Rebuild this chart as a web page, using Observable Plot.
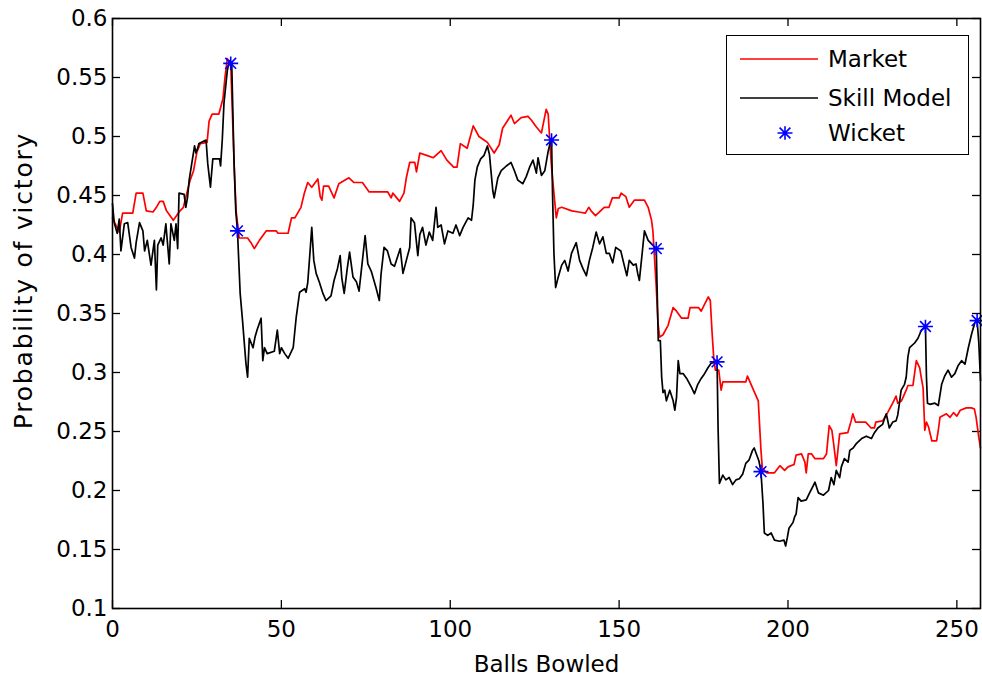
<!DOCTYPE html>
<html>
<head>
<meta charset="utf-8">
<script src="https://cdn.jsdelivr.net/npm/d3@7"></script>
<script src="https://cdn.jsdelivr.net/npm/@observablehq/plot@0.6"></script>
<style>
  html, body { margin: 0; padding: 0; background: #fff; }
  #wrap { position: relative; width: 982px; height: 677px; font-family: "DejaVu Sans", "Liberation Sans", Arial, sans-serif; }
  #legend { position: absolute; left: 726px; top: 35px; width: 243px; height: 120px; border: 1.5px solid #000; background: #fff; box-sizing: border-box; }
  .row { position: absolute; left: 0; height: 30px; display: flex; align-items: center; font-size: 23px; color: #000; }
  .row svg { margin-left: 13px; margin-right: 10px; }
</style>
</head>
<body>
<div id="wrap"></div>
<script>
// ---- data ----
const marketBall = [0,1,2,3,6,7,9,10,12,13,14,15,16,18,19,20,21,22,23,24,25,26,28,28.6,29.5,31.5,32.7,33.3,34,35,36,36.6,37.5,40,41,42,43.5,45.5,48.5,49,52,53,54,55.8,56.8,57.8,59,60.8,61.5,62,62.5,64,65.6,67,70,71.5,74,76,81.5,82.5,83,85,86.3,87,88,89.5,90,91,93,95,97.3,99,101,102,103,105,106.8,108.5,110,111,113,114.5,115.5,118,119,121,123,124,125.5,127,128.4,129,129.6,130,130.7,131.4,132,133,136,138,140,141,141.7,143,145.6,147,148,150,150.6,152,153,154.5,157.5,158.6,159.6,160,161,161.5,162,163,164.5,166,167,168.5,170.4,171,173.5,174.3,176.4,177,177.5,178,178.5,179.5,180.2,180.7,187.5,188,189.8,191.2,192,192.4,193.7,196,197.6,199,200,201.8,202.4,204,205,205.4,206,207,208,210.5,211.4,212.2,213,213.5,214.3,215.3,217.7,218.7,219.2,220,223,224.6,225.6,226,228,229.5,231,232,232.5,233.6,235,235.5,237,238,239,239.5,240,240.5,241,241.6,242.6,244,244.5,245,246.9,248,249,250,251,252.8,254.3,255.2,255.7,256.5,257];
const marketProb = [0.431,0.425,0.419,0.435,0.435,0.452,0.452,0.437,0.436,0.44,0.445,0.445,0.437,0.429,0.433,0.437,0.44,0.452,0.463,0.471,0.487,0.494,0.495,0.513,0.519,0.519,0.532,0.55,0.566,0.562,0.477,0.437,0.414,0.414,0.41,0.405,0.412,0.42,0.42,0.418,0.418,0.431,0.431,0.44,0.452,0.461,0.457,0.464,0.449,0.446,0.458,0.458,0.448,0.46,0.465,0.461,0.461,0.453,0.453,0.448,0.452,0.445,0.452,0.465,0.478,0.478,0.47,0.486,0.484,0.482,0.488,0.48,0.474,0.474,0.494,0.49,0.509,0.5,0.497,0.495,0.486,0.493,0.507,0.518,0.511,0.516,0.517,0.514,0.508,0.503,0.523,0.519,0.49,0.474,0.452,0.431,0.439,0.44,0.437,0.436,0.435,0.44,0.437,0.433,0.44,0.44,0.448,0.448,0.452,0.449,0.44,0.446,0.446,0.44,0.429,0.42,0.372,0.342,0.33,0.332,0.34,0.355,0.352,0.346,0.346,0.355,0.355,0.352,0.364,0.361,0.335,0.313,0.302,0.302,0.285,0.292,0.292,0.297,0.285,0.276,0.234,0.219,0.215,0.215,0.221,0.217,0.22,0.222,0.23,0.231,0.224,0.215,0.231,0.231,0.227,0.227,0.231,0.255,0.251,0.24,0.221,0.248,0.249,0.259,0.265,0.258,0.258,0.253,0.253,0.258,0.259,0.266,0.274,0.28,0.274,0.276,0.285,0.289,0.289,0.31,0.304,0.295,0.287,0.251,0.258,0.254,0.242,0.242,0.251,0.262,0.265,0.262,0.266,0.263,0.268,0.27,0.27,0.269,0.262,0.245,0.236];

const skillBall = [0,0.5,1.4,2,2.5,3.5,4.5,5.5,6.5,7,8,9,9.5,10.3,11.4,12.4,13,13.4,14.4,15,15.8,16.8,17.3,18.3,18.8,19.3,19.7,21.2,21.7,22.2,22.7,23.3,24.3,24.7,25.2,25.6,27.7,28.2,29,29.4,29.7,31.7,32,32.5,33,34,34.6,35.3,35.6,36,36.5,37,37.8,38.5,39.5,40,40.5,41.6,42.2,42.8,44,44.5,45,45.8,47.9,48.8,49.5,50,51,52,53.5,54.4,55.4,56.9,57.3,57.8,58.3,59,59.6,60.3,61.3,62.3,63.2,64.7,65.6,66.6,67.4,67.9,68.6,69.5,70.2,71.2,72.2,73,74,74.8,75.6,76.6,78,79,79.5,80.4,81.4,82.5,83.5,84.5,85.2,86,87,88,88.4,89.4,90.4,91,91.8,92.8,93.8,94.8,95.8,96.3,97.3,98.3,99.3,100.8,101.7,102.8,103.8,105.3,106.3,106.8,107.3,108,109,110,111,111.6,112.6,113,114.1,115.1,116.6,118,119,120,121.5,122.5,123.5,124.5,125.5,126,127,128,128.9,129.6,130,130.3,130.7,131.2,131.9,133,133.9,134.9,135.9,137.3,138.3,139.3,140.3,141.2,142.2,143.2,144.2,145.2,146.2,147.1,148.1,149,150.5,151.5,152.3,153,154.2,155,155.5,156,157,157.5,158.6,159.6,161,161.2,161.6,162.2,162.6,163,163.5,164,165,166,166.5,167,167.5,168,169,170,171.5,172.3,173.3,174.3,175.3,176.3,177.3,179,179.3,179.7,180.7,181.6,182.6,183.6,184.6,185.6,186.6,187.5,188.5,189.5,190,190.5,191.4,192,192.6,193,194,195,196,197.5,198.8,199.3,199.8,200.3,201.5,202,202.4,203,203.9,205.4,206.4,208,209,210.5,212,212.8,213.6,214.3,215.3,215.8,216.7,217.8,218.3,219.3,220.3,221.8,223.2,224.7,225.6,226.6,228,229.1,230,231,232,232.5,233,233.5,234.5,235,235.5,236,237.5,238.5,239.5,240.7,241,241.3,242,243.5,244.5,245.5,246.4,247.4,248.4,249.4,250.4,251.4,252.4,253.4,254.4,255.3,256,256.5,257];
const skillProb = [0.443,0.427,0.418,0.43,0.403,0.426,0.427,0.406,0.397,0.41,0.427,0.42,0.403,0.412,0.391,0.412,0.37,0.408,0.414,0.408,0.426,0.392,0.426,0.412,0.426,0.405,0.452,0.451,0.44,0.448,0.463,0.474,0.492,0.486,0.49,0.494,0.497,0.477,0.457,0.471,0.481,0.481,0.475,0.497,0.528,0.556,0.564,0.562,0.525,0.477,0.437,0.42,0.367,0.344,0.308,0.296,0.329,0.321,0.33,0.336,0.346,0.31,0.321,0.316,0.318,0.336,0.316,0.321,0.316,0.312,0.321,0.347,0.368,0.371,0.368,0.376,0.395,0.423,0.395,0.384,0.376,0.367,0.361,0.365,0.378,0.388,0.399,0.38,0.367,0.388,0.402,0.381,0.377,0.369,0.395,0.416,0.392,0.386,0.372,0.361,0.383,0.406,0.403,0.392,0.39,0.399,0.405,0.384,0.395,0.406,0.431,0.427,0.399,0.417,0.423,0.408,0.419,0.412,0.44,0.423,0.425,0.409,0.42,0.418,0.425,0.416,0.423,0.431,0.429,0.442,0.463,0.474,0.481,0.484,0.492,0.485,0.454,0.448,0.465,0.471,0.475,0.478,0.471,0.463,0.46,0.466,0.474,0.48,0.469,0.482,0.467,0.471,0.486,0.495,0.497,0.45,0.401,0.372,0.38,0.391,0.395,0.386,0.401,0.41,0.395,0.388,0.382,0.395,0.406,0.419,0.409,0.415,0.401,0.401,0.393,0.406,0.403,0.391,0.382,0.395,0.391,0.392,0.384,0.378,0.406,0.42,0.412,0.409,0.405,0.378,0.327,0.327,0.296,0.283,0.285,0.276,0.285,0.276,0.268,0.279,0.31,0.299,0.299,0.295,0.287,0.282,0.29,0.295,0.299,0.304,0.308,0.309,0.253,0.206,0.213,0.209,0.211,0.205,0.209,0.21,0.214,0.223,0.226,0.234,0.236,0.232,0.225,0.216,0.189,0.164,0.162,0.164,0.158,0.157,0.158,0.153,0.16,0.168,0.173,0.178,0.18,0.194,0.191,0.192,0.198,0.207,0.198,0.196,0.2,0.211,0.205,0.217,0.211,0.22,0.227,0.224,0.234,0.236,0.24,0.244,0.246,0.244,0.249,0.253,0.256,0.265,0.253,0.258,0.259,0.264,0.274,0.285,0.29,0.296,0.313,0.321,0.325,0.329,0.336,0.339,0.296,0.274,0.273,0.274,0.272,0.29,0.297,0.302,0.296,0.299,0.306,0.31,0.307,0.321,0.333,0.342,0.344,0.325,0.293];

const wicketBall = [35, 37, 130, 161, 179, 192, 240.7, 256];
const wicketProb = [0.562, 0.42, 0.497, 0.405, 0.309, 0.216, 0.339, 0.344];

const xTicks = [0, 50, 100, 150, 200, 250];
const yTicks = [0.1, 0.15, 0.2, 0.25, 0.3, 0.35, 0.4, 0.45, 0.5, 0.55, 0.6];
const xLabel = "Balls Bowled";
const yLabel = "Probability of victory";
const seriesNames = ["Market", "Skill Model", "Wicket"];
const seriesColors = ["#ff0000", "#000000", "#0000ff"];

// ---- build tables ----
const market = marketBall.map((b, i) => ({b, v: marketProb[i]}));
const skill = skillBall.map((b, i) => ({b, v: skillProb[i]}));
const wickets = wicketBall.map((b, i) => ({b, v: wicketProb[i]}));

// MATLAB-style '*' marker (8 arms)
const star = {
  draw(ctx, size) {
    const r = Math.sqrt(size / Math.PI);
    const d = r * 0.72;
    ctx.moveTo(-r, 0); ctx.lineTo(r, 0);
    ctx.moveTo(0, -r * 0.9); ctx.lineTo(0, r * 0.9);
    ctx.moveTo(-d, -d); ctx.lineTo(d, d);
    ctx.moveTo(-d, d); ctx.lineTo(d, -d);
  }
};

const fmt = d => String(+d.toFixed(2));
const FONT = '"DejaVu Sans", "Liberation Sans", Arial, sans-serif';

const chart = Plot.plot({
  width: 982,
  height: 677,
  marginLeft: 112,
  marginRight: 2,
  marginTop: 18,
  marginBottom: 69,
  style: {fontFamily: FONT, fontSize: "23px", color: "#000", background: "#fff"},
  x: {domain: [0, 257]},
  y: {domain: [0.1, 0.6]},
  marks: [
    Plot.axisX({ticks: xTicks, tickSize: 0, tickPadding: 12, tickFormat: fmt, label: null, fontSize: 23}),
    Plot.axisY({ticks: yTicks, tickSize: 0, tickPadding: 5, tickFormat: fmt, label: null, fontSize: 23}),
    Plot.tickX(xTicks, {x: d => d, stroke: "#000", strokeWidth: 1.3, insetTop: 582}),
    Plot.tickX(xTicks, {x: d => d, stroke: "#000", strokeWidth: 1.3, insetBottom: 582}),
    Plot.tickY(yTicks, {y: d => d, stroke: "#000", strokeWidth: 1.3, insetRight: 860}),
    Plot.tickY(yTicks, {y: d => d, stroke: "#000", strokeWidth: 1.3, insetLeft: 860}),
    Plot.line(market, {x: "b", y: "v", stroke: seriesColors[0], strokeWidth: 1.7}),
    Plot.line(skill, {x: "b", y: "v", stroke: seriesColors[1], strokeWidth: 1.7}),
    Plot.dot(wickets, {x: "b", y: "v", symbol: star, r: 7.5, stroke: seriesColors[2], fill: "none", strokeWidth: 1.6}),
    Plot.frame({stroke: "#000", strokeWidth: 1.6}),
    Plot.text([xLabel], {frameAnchor: "bottom", dy: 56, text: d => d, fontSize: 23, lineAnchor: "middle"}),
    Plot.text([yLabel], {frameAnchor: "left", dx: -89, dy: -33, rotate: -90, textAnchor: "middle", text: d => d, fontSize: 25, lineAnchor: "middle"})
  ]
});

// slightly widen the rotated axis title to match the reference span
d3.select(chart).selectAll("text").filter(function () { return this.textContent === yLabel; })
  .attr("letter-spacing", "1.8px");

const wrap = document.getElementById("wrap");
wrap.appendChild(chart);

// legend (inside the axes, top-right, like MATLAB)
const legend = document.createElement("div");
legend.id = "legend";
const rowTops = [8, 47, 82];
seriesNames.forEach((name, i) => {
  const row = document.createElement("div");
  row.className = "row";
  row.style.top = rowTops[i] + "px";
  const s = d3.create("svg").attr("width", 78).attr("height", 30);
  if (i < 2) {
    s.append("line").attr("x1", 0).attr("x2", 78).attr("y1", 15).attr("y2", 15)
      .attr("stroke", seriesColors[i]).attr("stroke-width", 1.7);
  } else {
    const p = d3.path();
    star.draw(p, Math.PI * 7.5 * 7.5);
    s.append("path").attr("transform", "translate(45,15)").attr("d", p.toString())
      .attr("stroke", seriesColors[i]).attr("stroke-width", 1.6).attr("fill", "none");
  }
  row.appendChild(s.node());
  const t = document.createElement("span");
  t.textContent = name;
  row.appendChild(t);
  legend.appendChild(row);
});
wrap.appendChild(legend);
</script>
</body>
</html>
